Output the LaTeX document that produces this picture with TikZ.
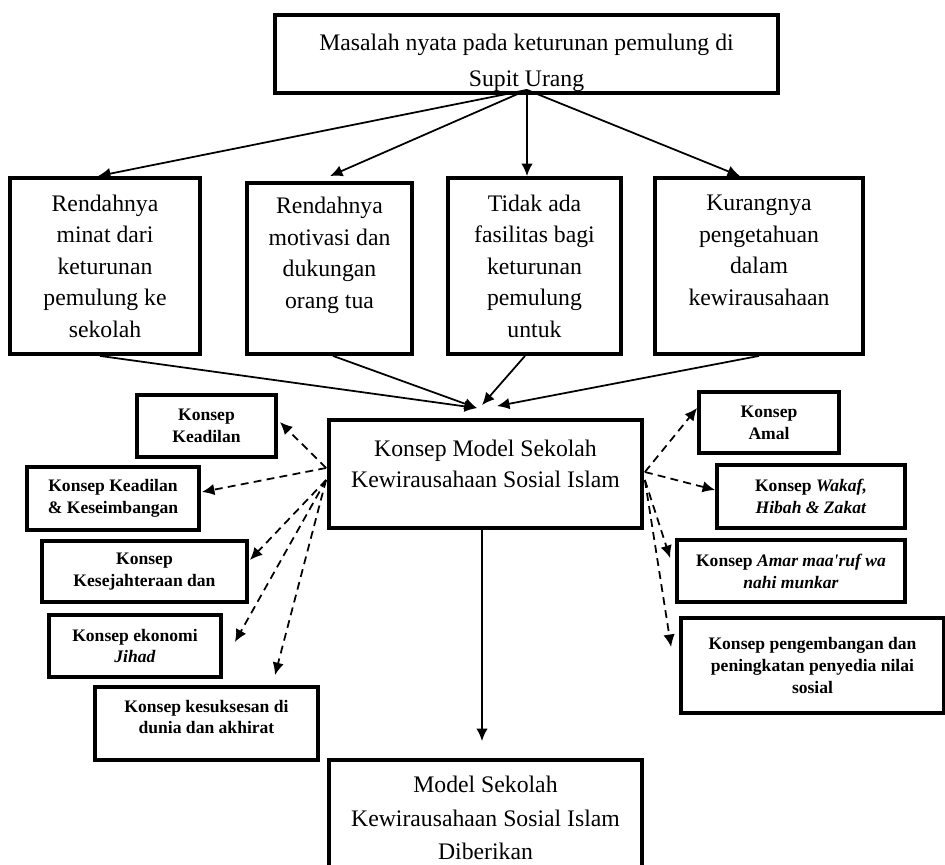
\documentclass[tikz,border=0pt]{standalone}
\usepackage{fontspec}
\setmainfont{Liberation Serif}
\usetikzlibrary{positioning}
\usetikzlibrary{arrows.meta,calc}

\begin{document}
\begin{tikzpicture}[
      x=0.02cm, y=-0.02cm,
      type-main/.style={rectangle, draw=black, line width=2.2pt, align=center, inner sep=0pt, font=\fontsize{13.5}{20.4}\selectfont},
      type-cause/.style={rectangle, draw=black, line width=2.2pt, align=center, inner sep=0pt, minimum height=3.52cm, font=\fontsize{13.5}{17.9}\selectfont},
      type-model/.style={rectangle, draw=black, line width=2.2pt, align=center, inner sep=0pt, font=\fontsize{13.5}{17.6}\selectfont},
      type-konsep/.style={rectangle, draw=black, line width=2.2pt, align=center, inner sep=0pt, font=\fontsize{10}{12.5}\selectfont\bfseries},
      link/.style={line width=1pt, -{Latex[length=0.25cm,width=0.23cm]}},
      link-dash/.style={link, dash pattern=on 4.5pt off 3pt}
    ]
      \useasboundingbox (0,0) rectangle (945,864);

      \node[type-main, minimum width=10.06cm, minimum height=1.56cm] (masalah) at (526.5,54) {\rule{0pt}{19pt}Masalah nyata pada keturunan pemulung di\\Supit Urang};

      \node[type-cause, minimum width=3.8cm] (minat) at (105,266) {Rendahnya\\minat dari\\keturunan\\pemulung ke\\sekolah};
      \node[type-cause, minimum width=3.3cm, minimum height=3.42cm] (motivasi) at (329.5,268.5) {Rendahnya\\motivasi dan\\dukungan\\orang tua\\~};
      \node[type-cause, minimum width=3.46cm] (fasilitas) at (534.5,266) {Tidak ada\\fasilitas bagi\\keturunan\\pemulung\\untuk};
      \node[type-cause, minimum width=4.16cm] (pengetahuan) at (759,266) {Kurangnya\\pengetahuan\\dalam\\kewirausahaan\\~};

      \node[type-model, minimum width=6.26cm, minimum height=2.16cm] (konsep) at (485.5,474) {Konsep Model Sekolah\\Kewirausahaan Sosial Islam\\[-6pt]~};
      \node[type-main, minimum width=6.26cm, minimum height=2.32cm, font=\fontsize{13.5}{19}\selectfont] (model) at (485.5,818) {Model Sekolah\\Kewirausahaan Sosial Islam\\Diberikan};

      \node[type-konsep, minimum width=2.78cm, minimum height=1.24cm] (keadilan) at (206.5,426) {Konsep\\Keadilan};
      \node[type-konsep, minimum width=3.44cm, minimum height=1.26cm] (seimbang) at (113,498.5) {Konsep Keadilan\\\& Keseimbangan};
      \node[type-konsep, minimum width=4.1cm, minimum height=1.22cm] (sejahtera) at (144.5,571.5) {Konsep\\Kesejahteraan dan};
      \node[type-konsep, minimum width=3.44cm, minimum height=1.24cm] (jihad) at (135,646) {Konsep ekonomi\\\textit{Jihad}};
      \node[type-konsep, minimum width=4.46cm, minimum height=1.46cm] (sukses) at (206.5,723.5) {Konsep kesuksesan di\\dunia dan akhirat\\[-5pt]~};

      \node[type-konsep, minimum width=2.8cm, minimum height=1.22cm] (amal) at (769,422.5) {Konsep\\Amal};
      \node[type-konsep, minimum width=3.76cm, minimum height=1.26cm] (wakaf) at (811,496.5) {Konsep \textit{Wakaf,}\\\textit{Hibah \& Zakat}};
      \node[type-konsep, minimum width=4.56cm, minimum height=1.24cm] (amar) at (791,571) {Konsep \textit{Amar maa\textquotesingle ruf wa}\\\textit{nahi munkar}};
      \node[type-konsep, minimum width=5.26cm, minimum height=1.9cm] (nilai) at (812.5,665.5) {Konsep pengembangan dan\\peningkatan penyedia nilai\\sosial};

      \coordinate (src) at ($(masalah.south)+(0.5,-5)$);
      \draw[link] (src) -- ($(minat.north)+(-7,0)$);
      \draw[link] (src) -- ($(motivasi.north)+(0.5,-5)$);
      \draw[link] (src) -- ($(fasilitas.north)+(-7.5,0)$);
      \draw[link] (src) -- ($(pengetahuan.north)+(-19,0)$);

      \draw[link] ($(minat.south)+(-5,0)$) -- ($(konsep.north)+(-8.5,-10)$);
      \draw[link] ($(motivasi.south)+(3.5,0)$) -- ($(konsep.north)+(-8.5,-10)$);
      \draw[link] ($(fasilitas.south)+(-9.5,0)$) -- ($(konsep.north)+(-3.5,-13)$);
      \draw[link] (pengetahuan.south) -- ($(konsep.north)+(11.5,-12)$);
      \draw[link] ($(konsep.south)+(-3.5,0)$) -- ($(model.north)+(-3.5,-17)$);

      \coordinate (kiri-a) at ($(konsep.west)+(-1,-6)$);
      \coordinate (kiri-b) at ($(konsep.west)+(-1,6)$);
      \coordinate (kanan-a) at ($(konsep.east)+(1,-2)$);
      \coordinate (kanan-b) at ($(konsep.east)+(1,6)$);
      \draw[link-dash] (kiri-a) -- ($(keadilan.east)+(2,-4)$);
      \draw[link-dash] (kiri-a) -- ($(seimbang.east)+(1,-6.5)$);
      \draw[link-dash] (kiri-b) -- ($(sejahtera.east)+(1,-11.5)$);
      \draw[link-dash] (kiri-b) -- ($(jihad.east)+(12,-4)$);
      \draw[link-dash] (kiri-b) -- ($(sukses.north)+(68.5,-10)$);
      \draw[link-dash] (kanan-a) -- ($(amal.west)+(0,-14.5)$);
      \draw[link-dash] (kanan-a) -- ($(wakaf.west)+(0,-6.5)$);
      \draw[link-dash] (kanan-b) -- ($(amar.west)+(-5,-13)$);
      \draw[link-dash] (kanan-b) -- ($(nilai.west)+(-8,-18.5)$);
    \end{tikzpicture}
\end{document}
